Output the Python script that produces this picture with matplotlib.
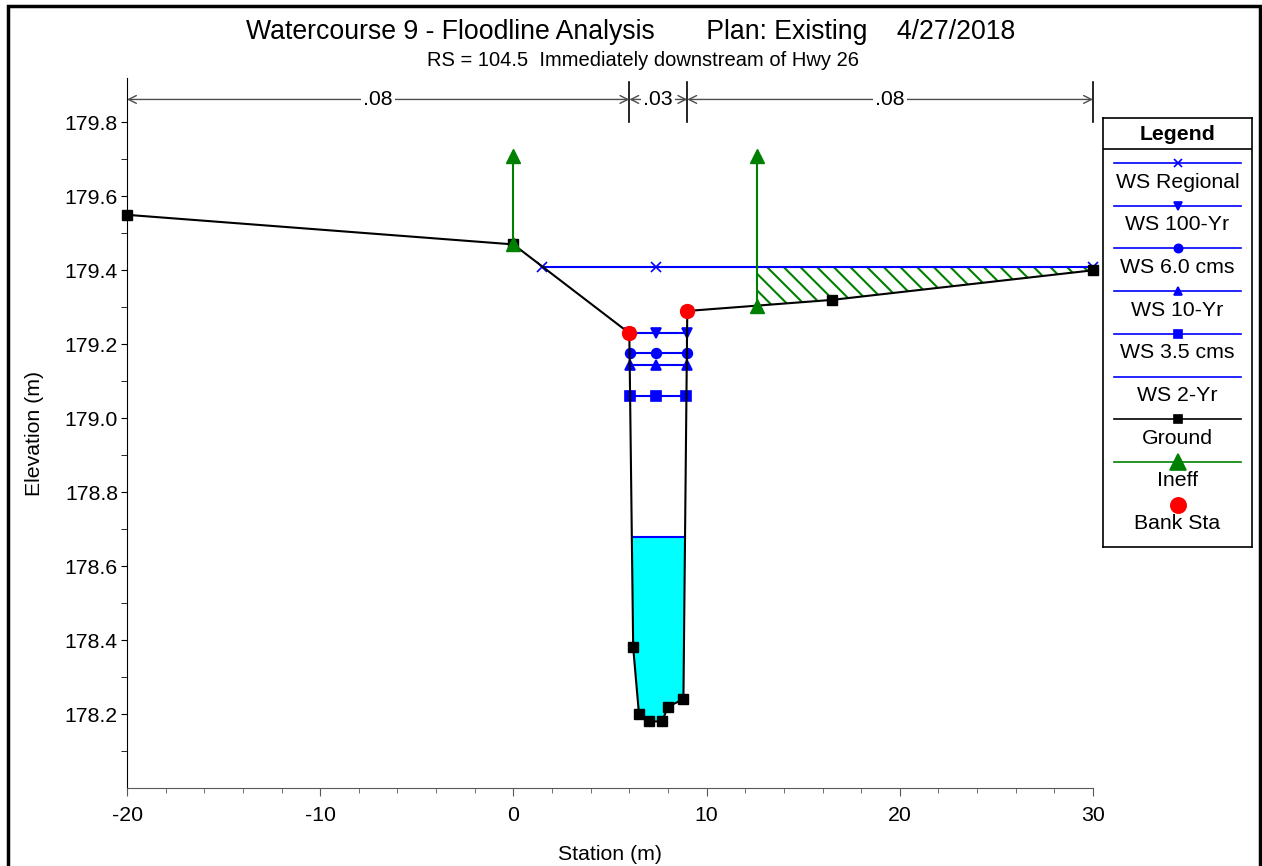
import numpy as np
import matplotlib
matplotlib.use("Agg")
import matplotlib.pyplot as plt
from matplotlib.patches import Rectangle

plt.rcParams['font.family'] = ['Liberation Sans', 'DejaVu Sans']
plt.rcParams['axes.unicode_minus'] = False
plt.rcParams['hatch.color'] = 'green'
plt.rcParams['hatch.linewidth'] = 1.5

# ground profile (station m, elevation m)
ground_sta = [-20.0, 0.0, 6.0, 6.2, 6.5, 7.0, 7.7, 8.0, 8.8, 9.0, 16.5, 30.0]
ground_elev = [179.55, 179.47, 179.23, 178.38, 178.20, 178.18, 178.18, 178.22, 178.24, 179.29, 179.32, 179.40]

# water surfaces
ws_names = ['WS Regional', 'WS 100-Yr', 'WS 6.0 cms', 'WS 10-Yr', 'WS 3.5 cms', 'WS 2-Yr']
ws_elev = [179.41, 179.23, 179.175, 179.145, 179.06, 178.68]
ws_mid_sta = 7.37

# ineffective flow areas and bank stations
ineff_sta = [0.0, 12.6]
ineff_elev = [179.71, 179.71]
bank_sta = [6.0, 9.0]

# manning's n
n_breaks = [-20.0, 6.0, 9.0, 30.0]
n_values = ['.08', '.03', '.08']

ws_markers = ['x', 'v', 'o', '^', 's', None]
FS = 15.3

W, H = 1262, 866
fig = plt.figure(figsize=(W / 100, H / 100), dpi=100)
ax = fig.add_axes([127 / W, 1 - 788 / H, (1093 - 127) / W, (788 - 78) / H])

gs = np.array(ground_sta)
ge = np.array(ground_elev)
xs = np.linspace(gs[0], gs[-1], 20001)
gi = np.interp(xs, gs, ge)
thalweg = np.argmin(gi)


def wet_edges(ws):
    wet = gi <= ws + 1e-9
    i = thalweg
    while i > 0 and wet[i - 1]:
        i -= 1
    j = thalweg
    while j < len(xs) - 1 and wet[j + 1]:
        j += 1
    return xs[i], xs[j]


# 2-yr fill
lo, hi = wet_edges(ws_elev[-1])
m = (xs >= lo) & (xs <= hi)
ax.fill_between(xs[m], gi[m], ws_elev[-1], color='cyan', lw=0, zorder=1)

# ineffective area hatch (right)
m2 = (xs >= ineff_sta[1]) & (gi <= ws_elev[0])
ax.fill_between(xs[m2], gi[m2], ws_elev[0], facecolor='none', edgecolor='green',
                hatch='\\\\', lw=0, zorder=1)

for name, ws, mk in zip(ws_names, ws_elev, ws_markers):
    a, b = wet_edges(ws)
    ax.plot([a, b], [ws, ws], color='blue', lw=1.5, zorder=3)
    if mk:
        ax.plot([a, ws_mid_sta, b], [ws] * 3, ls='none', marker=mk, color='blue',
                ms=7, mew=1.2, zorder=4, clip_on=False)

ax.plot(ground_sta, ground_elev, color='black', lw=1.5, marker='s', ms=7, zorder=5,
        clip_on=False)

for s, e in zip(ineff_sta, ineff_elev):
    gb = np.interp(s, gs, ge)
    ax.plot([s, s], [gb, e], color='green', lw=1.5, marker='^', ms=10, zorder=6)

ax.plot(bank_sta, np.interp(bank_sta, gs, ge), ls='none', marker='o', color='red',
        ms=10, zorder=7)

ax.set_xlim(-20, 30)
ax.set_ylim(178.0, 179.92)
ax.set_xticks(np.arange(-20, 31, 10))
ax.set_xticks(np.arange(-20, 31, 2), minor=True)
ax.set_yticks(np.arange(178.2, 179.81, 0.2))
ax.set_yticks(np.arange(178.1, 179.81, 0.2), minor=True)
ax.yaxis.set_major_formatter(matplotlib.ticker.FormatStrFormatter('%.1f'))
ax.tick_params(axis='both', labelsize=FS, direction='out')
ax.tick_params(axis='x', which='major', length=6, color='0.35', pad=7)
ax.tick_params(axis='x', which='minor', length=3.5, color='0.35')
ax.tick_params(axis='y', which='both', length=4.5, pad=2)
for sp in ['top', 'right']:
    ax.spines[sp].set_visible(False)
ax.spines['bottom'].set_color('0.35')
ax.set_xlabel('Station (m)', fontsize=FS, labelpad=14)
ax.set_ylabel('Elevation (m)', fontsize=FS, labelpad=15)

# manning's n dimension lines
y_arrow = 179.862
for s in n_breaks[1:]:
    ax.plot([s, s], [179.8, 179.91], color='black', lw=1.2, clip_on=False)
for k, lab in enumerate(n_values):
    x0, x1 = n_breaks[k], n_breaks[k + 1]
    ax.annotate('', xy=(x1, y_arrow), xytext=(x0, y_arrow),
                arrowprops=dict(arrowstyle='<->', color='0.3', lw=1,
                                shrinkA=0, shrinkB=0, mutation_scale=14),
                annotation_clip=False)
    ax.text((x0 + x1) / 2, y_arrow, lab, fontsize=FS, ha='center', va='center',
            bbox=dict(facecolor='white', edgecolor='none', pad=1.5), zorder=8)

fig.text(631 / W, 1 - 32 / H,
         'Watercourse 9 - Floodline Analysis       Plan: Existing    4/27/2018',
         fontsize=19.2, ha='center', va='center')
fig.text(643 / W, 1 - 61 / H, 'RS = 104.5  Immediately downstream of Hwy 26',
         fontsize=14.5, ha='center', va='center')

# legend box
lg = fig.add_axes([1103 / W, 1 - 547 / H, (1252 - 1103) / W, (547 - 118) / H])
lg.set_xlim(0, 1)
lg.set_ylim(547 - 118, 0)
lg.set_xticks([])
lg.set_yticks([])
for sp in lg.spines.values():
    sp.set_linewidth(1.2)
lg.text(0.5, 16, 'Legend', fontsize=FS, fontweight='bold', ha='center', va='center')
lg.plot([0, 1], [31, 31], color='black', lw=1.2)
leg_labels = ws_names + ['Ground', 'Ineff', 'Bank Sta']
leg_colors = ['blue'] * 6 + ['black', 'green', None]
leg_markers = ws_markers + ['s', '^', 'o']
leg_ms = [6, 6, 6, 6, 6, 0, 6, 11, 11]
for k, lab in enumerate(leg_labels):
    yl = 45 + 42.7 * k
    if leg_colors[k]:
        lg.plot([0.075, 0.925], [yl, yl], color=leg_colors[k], lw=1.2)
    if leg_markers[k]:
        lg.plot([0.5], [yl], marker=leg_markers[k], ms=leg_ms[k], mew=1.2,
                color=leg_colors[k] or 'red', ls='none')
    lg.text(0.5, yl + 19, lab, fontsize=FS, ha='center', va='center')

# outer frame
fig.patches.append(Rectangle((7.5 / W, -0.05), (1259.5 - 7.5) / W, 1 - 6 / H + 0.05,
                             transform=fig.transFigure, fill=False, lw=2.5,
                             edgecolor='black'))

fig.savefig('out.png', dpi=100)
